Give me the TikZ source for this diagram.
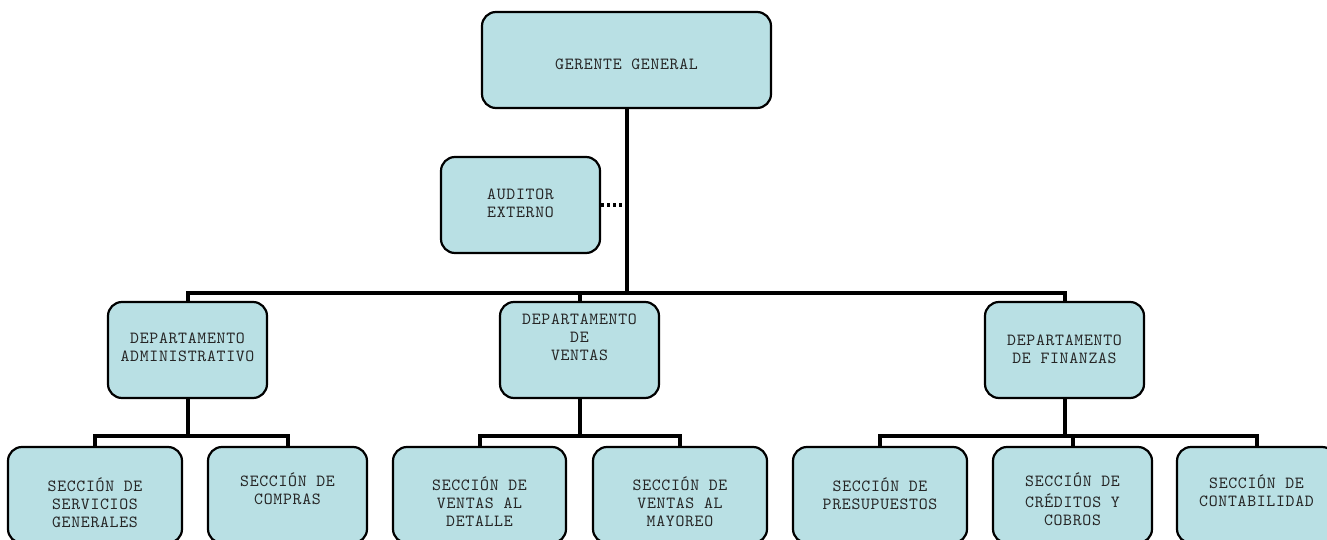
\documentclass[tikz,border=0pt]{standalone}
\usepackage{fontspec}
\newfontfamily\boxfont{lmmono10-regular.otf}[LetterSpace=4]
% fixed-height strut: every text line is exactly 12pt above and 6pt below its baseline
\newcommand\lnstrut{\rule[-6pt]{0pt}{18pt}}
\definecolor{boxfill}{RGB}{185,224,228}
\begin{document}
\begin{tikzpicture}[x=1pt,y=-1pt,
  unit/.style={draw=black, line width=2.2pt, fill=boxfill, rounded corners=14pt, inner sep=0pt, minimum height=96pt},
  boxtext/.style={anchor=north, inner sep=0pt, align=center, font=\boxfont\fontsize{17}{18}\selectfont, text=black!85},
  conn/.style={line width=4pt, line join=miter},
  dotconn/.style={line width=4pt, dash pattern=on 3.3pt off 2.7pt},
]
\useasboundingbox (0,0) rectangle (1327,540);
\clip (0,0) rectangle (1327,540);

% bus lines
\coordinate (bus) at (0,292.5);
\coordinate (bus2) at (0,436);

% boxes
\node[unit, minimum width=289pt] (gg) at (626.5,60) {};
\node[unit, minimum width=159pt] (aud) at (520.5,205) {};
\node[unit, minimum width=159pt] (dadm) at (187.5,350) {};
\node[unit, minimum width=159pt] (dven) at (579.5,350) {};
\node[unit, minimum width=159pt] (dfin) at (1064.5,350) {};
\node[unit, minimum width=174pt] (s1) at (95,495) {};
\node[unit, minimum width=159pt] (s2) at (287.5,495) {};
\node[unit, minimum width=173pt] (s3) at (479.5,495) {};
\node[unit, minimum width=174pt] (s4) at (680,495) {};
\node[unit, minimum width=174pt] (s5) at (880,495) {};
\node[unit, minimum width=159pt] (s6) at (1072.5,495) {};
\node[unit, minimum width=159pt] (s7) at (1256.5,495) {};

% texts
\node[boxtext] (gg-t) at (626.5,57) {\lnstrut GERENTE GENERAL};
\node[boxtext] (aud-t) at (520.5,187.5) {\lnstrut AUDITOR\\\lnstrut EXTERNO};
\node[boxtext] (dadm-t) at (187.5,331) {\lnstrut DEPARTAMENTO\\\lnstrut ADMINISTRATIVO};
\node[boxtext] (dven-t) at (579.5,312) {\lnstrut DEPARTAMENTO\\\lnstrut DE\\\lnstrut VENTAS};
\node[boxtext] (dfin-t) at (1064.5,333) {\lnstrut DEPARTAMENTO\\\lnstrut DE FINANZAS};
\node[boxtext] (s1-t) at (95,478) {\lnstrut SECCIÓN DE\\\lnstrut SERVICIOS\\\lnstrut GENERALES};
\node[boxtext] (s2-t) at (287.5,473) {\lnstrut SECCIÓN DE\\\lnstrut COMPRAS};
\node[boxtext] (s3-t) at (479.5,477) {\lnstrut SECCIÓN DE\\\lnstrut VENTAS AL\\\lnstrut DETALLE};
\node[boxtext] (s4-t) at (680,477) {\lnstrut SECCIÓN DE\\\lnstrut VENTAS AL\\\lnstrut MAYOREO};
\node[boxtext] (s5-t) at (880,478) {\lnstrut SECCIÓN DE\\\lnstrut PRESUPUESTOS};
\node[boxtext] (s6-t) at (1072.5,473) {\lnstrut SECCIÓN DE\\\lnstrut CRÉDITOS Y\\\lnstrut COBROS};
\node[boxtext] (s7-t) at (1256.5,475) {\lnstrut SECCIÓN DE\\\lnstrut CONTABILIDAD};

% top level connectors
\draw[conn] (gg.south) -- (gg.south |- bus);
\draw[conn] (dadm.north) -- (dadm.north |- bus) -- (dfin.north |- bus) -- (dfin.north);
\draw[conn] (dven.north) -- (dven.north |- bus);
\draw[dotconn] (aud.east) -- (aud.east -| gg.south);

% administrative sections
\draw[conn] (dadm.south) -- (dadm.south |- bus2);
\draw[conn] (s1.north) -- (s1.north |- bus2) -- (s2.north |- bus2) -- (s2.north);

% sales sections
\draw[conn] (dven.south) -- (dven.south |- bus2);
\draw[conn] (s3.north) -- (s3.north |- bus2) -- (s4.north |- bus2) -- (s4.north);

% finance sections
\draw[conn] (dfin.south) -- (dfin.south |- bus2);
\draw[conn] (s5.north) -- (s5.north |- bus2) -- (s7.north |- bus2) -- (s7.north);
\draw[conn] (s6.north) -- (s6.north |- bus2);
\end{tikzpicture}
\end{document}
